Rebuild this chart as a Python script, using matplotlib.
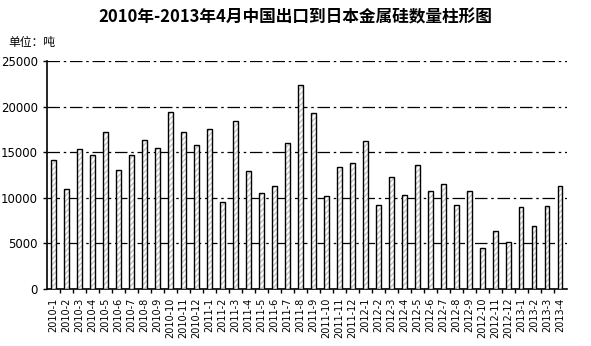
import numpy as np
import matplotlib.pyplot as plt

plt.rcParams['font.family'] = ['Noto Sans CJK SC', 'DejaVu Sans']

months = ['2010-1', '2010-2', '2010-3', '2010-4', '2010-5', '2010-6', '2010-7', '2010-8',
          '2010-9', '2010-10', '2010-11', '2010-12', '2011-1', '2011-2', '2011-3', '2011-4',
          '2011-5', '2011-6', '2011-7', '2011-8', '2011-9', '2011-10', '2011-11', '2011-12',
          '2012-1', '2012-2', '2012-3', '2012-4', '2012-5', '2012-6', '2012-7', '2012-8',
          '2012-9', '2012-10', '2012-11', '2012-12', '2013-1', '2013-2', '2013-3', '2013-4']
tons = [14100, 11000, 15300, 14700, 17200, 13000, 14700, 16300,
        15500, 19400, 17200, 15800, 17500, 9500, 18400, 12900,
        10500, 11300, 16000, 22400, 19300, 10200, 13400, 13800,
        16200, 9200, 12300, 10300, 13600, 10700, 11500, 9200,
        10800, 4500, 6400, 5200, 9000, 6900, 9100, 11300]

fig = plt.figure(figsize=(5.91, 3.46), dpi=100)
ax = fig.add_axes([0.0795, 0.1647, 0.8795, 0.659])

x = np.arange(len(months))
w = 0.34
ax.bar(x, tons, width=w, color='white', edgecolor='#c4c4c4', hatch='//////', linewidth=0, zorder=3)
ax.bar(x, tons, width=w, color='none', edgecolor='black', linewidth=1.0, zorder=4)

ax.set_xlim(-0.5, len(months) - 0.5)
ax.set_ylim(0, 25000)
ax.set_yticks(np.arange(0, 25001, 5000))
ax.yaxis.grid(True, color='black', linestyle=(0, (10, 3, 2, 3)), linewidth=0.9)
ax.set_axisbelow(True)

ax.set_xticks(x)
ax.set_xticklabels(months, rotation=90, fontsize=7, family='DejaVu Sans')
ax.set_xticks(x[:-1] + 0.5, minor=True)
ax.tick_params(axis='x', which='major', length=0, pad=6)
ax.tick_params(axis='x', which='minor', length=3, width=1, direction='out')
ax.tick_params(axis='y', length=3, width=1, direction='out', labelsize=8.5)
for lab in ax.get_yticklabels():
    lab.set_family('DejaVu Sans')

ax.spines['top'].set_visible(False)
ax.spines['right'].set_visible(False)
ax.spines['left'].set_linewidth(1.2)
ax.spines['bottom'].set_linewidth(1.2)

fig.text(0.5, 0.95, '2010年-2013年4月中国出口到日本金属硅数量柱形图',
         ha='center', va='center', fontsize=12, fontweight='bold')
fig.text(0.014, 0.877, '单位：吨', ha='left', va='center', fontsize=8.5)

plt.savefig('out.png', dpi=100)
